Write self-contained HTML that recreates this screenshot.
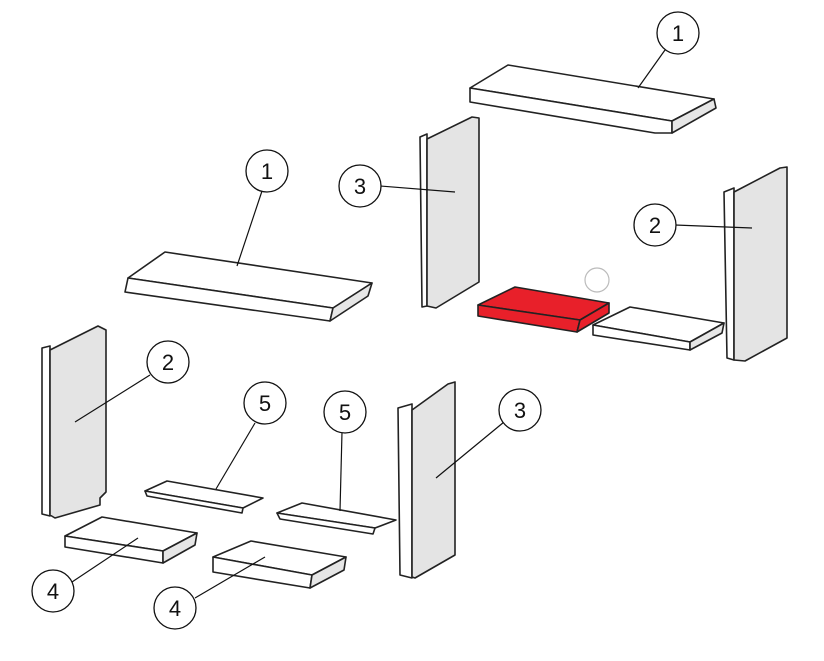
<!DOCTYPE html>
<html><head><style>body{margin:0;background:#fff}svg{display:block}</style></head><body>
<svg width="824" height="661" viewBox="0 0 824 661" xmlns="http://www.w3.org/2000/svg" font-family="Liberation Sans, sans-serif">
<g stroke="#222" stroke-width="1.6" stroke-linejoin="round" fill="#fff">
<!-- top slab 1 -->
<polygon points="470,88 508,65 714,99 672,121"/>
<polygon points="470,88 672,121 672,133 655,133 470,102"/>
<polygon points="672,121 714,99 716,108 672,133" fill="#e6e6e6"/>
<!-- left slab 1 -->
<polygon points="128,278 165,252 372,283 333,308"/>
<polygon points="128,278 333,308 330,321 125,292"/>
<polygon points="333,308 372,283 368,296 330,321" fill="#e6e6e6"/>
<!-- panel 3 top -->
<polygon points="420,137 427,134 427,306 422,307"/>
<polygon points="427,139 472,117 479,118 479,282 436,308 427,306" fill="#e4e4e4"/>
<!-- panel 2 right -->
<polygon points="724,192 734,188 734,360 727,358"/>
<polygon points="734,192 780,168 787,167 787,338 745,361 734,360" fill="#e4e4e4"/>
<!-- red brick -->
<polygon points="478,305 515,287 609,303 580,320" fill="#e8202a"/>
<polygon points="478,305 580,320 577,332 478,316" fill="#e8202a"/>
<polygon points="580,320 609,303 609,313 577,332" fill="#e8202a"/>
<!-- white brick -->
<polygon points="593,325 630,307 724,323 690,342"/>
<polygon points="593,325 690,342 690,350 593,335"/>
<polygon points="690,342 724,323 722,333 690,350" fill="#e6e6e6"/>
<!-- panel 2 left -->
<polygon points="42,348 50,346 50,516 42,514"/>
<polygon points="50,350 98,326 106,330 106,492 100,498 100,505 55,518 50,515" fill="#e4e4e4"/>
<!-- slab 5a -->
<polygon points="145,491 167,481 263,498 243,508"/>
<polygon points="145,491 243,508 242,513 147,496"/>
<!-- slab 5b -->
<polygon points="277,513 302,503 396,520 375,528"/>
<polygon points="277,513 375,528 373,534 280,519"/>
<!-- slab 4a -->
<polygon points="65,536 102,517 197,533 163,551"/>
<polygon points="65,536 163,551 163,563 65,547"/>
<polygon points="163,551 197,533 195,545 163,563" fill="#e6e6e6"/>
<!-- slab 4b -->
<polygon points="213,557 251,541 346,557 312,575"/>
<polygon points="213,557 312,575 310,588 213,572"/>
<polygon points="312,575 346,557 344,570 310,588" fill="#e6e6e6"/>
<!-- panel 3 bottom -->
<polygon points="398,408 412,404 412,578 400,575"/>
<polygon points="412,410 448,384 455,382 455,555 415,578 412,577" fill="#e4e4e4"/>
</g>
<circle cx="597" cy="280" r="12" fill="none" stroke="#bbb" stroke-width="1.2"/>
<g stroke="#111" stroke-width="1.2">
<line x1="665" y1="50" x2="638" y2="88"/>
<line x1="380" y1="186" x2="455" y2="192"/>
<line x1="675" y1="225" x2="752" y2="228"/>
<line x1="262" y1="191" x2="237" y2="266"/>
<line x1="150" y1="375" x2="75" y2="422"/>
<line x1="255" y1="423" x2="216" y2="489"/>
<line x1="342" y1="432" x2="340" y2="511"/>
<line x1="504" y1="422" x2="436" y2="478"/>
<line x1="72" y1="582" x2="138" y2="538"/>
<line x1="195" y1="598" x2="265" y2="557"/>
</g>
<g fill="#fff" stroke="#111" stroke-width="1.3">
<circle cx="678" cy="33" r="21"/><circle cx="360" cy="186" r="21"/><circle cx="655" cy="225" r="21"/>
<circle cx="267" cy="171" r="21"/><circle cx="168" cy="362" r="21"/><circle cx="265" cy="403" r="21"/>
<circle cx="345" cy="412" r="21"/><circle cx="520" cy="410" r="21"/><circle cx="53" cy="591" r="21"/>
<circle cx="175" cy="608" r="21"/>
</g>
<g font-size="22" text-anchor="middle" fill="#111">
<text x="678" y="41">1</text><text x="360" y="194">3</text><text x="655" y="233">2</text>
<text x="267" y="179">1</text><text x="168" y="370">2</text><text x="265" y="411">5</text>
<text x="345" y="420">5</text><text x="520" y="418">3</text><text x="53" y="599">4</text>
<text x="175" y="616">4</text>
</g>
</svg>
</body></html>
